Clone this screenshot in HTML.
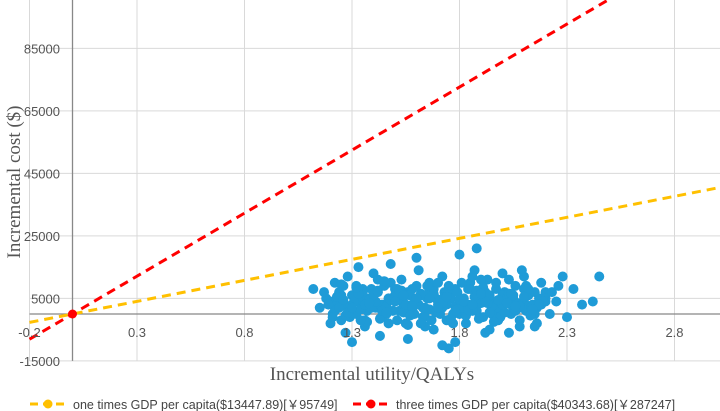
<!DOCTYPE html>
<html><head><meta charset="utf-8"><style>
body{margin:0;background:#fff}
svg{display:block}
text{font-family:"Liberation Sans",sans-serif}
</style></head><body>
<svg id="chart" width="720" height="411" viewBox="0 0 720 411" xmlns="http://www.w3.org/2000/svg">
<g id="grid"></g>
<g id="lines"></g>
<g id="pts"></g>
<g id="labels"></g>
<text x="372" y="380" text-anchor="middle" font-size="19" fill="#555" style="font-family:'Liberation Serif',serif">Incremental utility/QALYs</text>
<text transform="translate(20,182) rotate(-90)" text-anchor="middle" font-size="19" fill="#555" style="font-family:'Liberation Serif',serif">Incremental cost ($)</text>
<g>
<line x1="30" y1="404" x2="64" y2="404" stroke="#FFC000" stroke-width="3" stroke-dasharray="8,5"/>
<circle cx="48" cy="404" r="4.5" fill="#FFC000"/>
<text x="73" y="409" font-size="12.5" fill="#444">one times GDP per capita($13447.89)[￥95749]</text>
</g>
<g>
<line x1="353" y1="404" x2="387" y2="404" stroke="#FF0000" stroke-width="3" stroke-dasharray="8,5"/>
<circle cx="371" cy="404" r="4.5" fill="#FF0000"/>
<text x="396" y="409" font-size="12.5" fill="#444">three times GDP per capita($40343.68)[￥287247]</text>
</g>
</svg>
<script>
const xTicks=[-0.2,0.3,0.8,1.3,1.8,2.3,2.8];
const yTicks=[-15000,5000,25000,45000,65000,85000];
const wtp=[13447.89,40343.68];
const ptX=[1.12,1.15,1.18,1.2,1.22,1.25,1.27,1.28,1.3,1.3,1.32,1.33,1.35,1.36,1.38,1.4,1.41,1.43,1.45,1.46,1.48,1.5,1.51,1.53,1.55,1.56,1.58,1.6,1.61,1.63,1.65,1.66,1.68,1.7,1.72,1.73,1.75,1.77,1.78,1.8,1.82,1.83,1.85,1.87,1.88,1.9,1.92,1.93,1.95,1.97,1.98,2.0,2.02,2.04,2.06,2.08,2.1,2.12,2.14,2.16,2.18,2.2,2.22,2.25,2.28,2.3,2.33,2.37,2.42,2.45,
1.2,1.24,1.28,1.32,1.36,1.4,1.44,1.48,1.52,1.56,1.6,1.64,1.68,1.72,1.76,1.8,1.84,1.88,1.92,1.96,2.0,2.04,2.08,2.12,2.16,2.2,
1.17,1.23,1.29,1.34,1.39,1.45,1.5,1.55,1.6,1.66,1.71,1.76,1.81,1.86,1.91,1.96,2.01,2.06,2.11,2.15,
1.21,1.26,1.31,1.37,1.42,1.47,1.53,1.58,1.63,1.69,1.74,1.79,1.84,1.9,1.95,2.0,2.05,2.1,2.15,2.2,2.26,
1.19,1.25,1.35,1.42,1.5,1.57,1.64,1.7,1.78,1.86,1.94,2.03,2.09,2.17,
1.24,1.33,1.44,1.54,1.62,1.74,1.84,1.93,2.03,2.13,2.23,1.6,1.88,1.72,2.05,1.47,
1.22,1.26,1.3,1.34,1.38,1.42,1.46,1.5,1.54,1.58,1.62,1.66,1.7,1.74,1.78,1.82,1.86,1.9,1.94,1.98,2.02,2.06,2.1,2.14,2.18,
1.23,1.27,1.31,1.35,1.39,1.43,1.47,1.51,1.55,1.59,1.63,1.67,1.71,1.75,1.79,1.83,1.87,1.91,1.95,1.99,2.03,2.07,2.11,2.15,2.19,
1.21,1.25,1.29,1.33,1.37,1.41,1.45,1.49,1.53,1.57,1.61,1.65,1.69,1.73,1.77,1.81,1.85,1.89,1.93,1.97,2.01,2.05,2.09,2.13,
1.24,1.28,1.32,1.36,1.4,1.44,1.48,1.52,1.56,1.6,1.64,1.68,1.72,1.76,1.8,1.84,1.88,1.92,1.96,2.0,2.04,2.08,2.12,2.17,
1.26,1.3,1.34,1.38,1.42,1.46,1.5,1.54,1.58,1.62,1.66,1.7,1.74,1.78,1.82,1.86,1.9,1.94,1.98,2.02,2.06,2.1,2.14];
const ptY=[8000,2000,5000,-3000,10000,6000,-6000,12000,3000,-9000,0,15000,8000,-4000,5000,13000,2000,-7000,9000,0,16000,4000,-2000,11000,6000,-8000,1000,9000,14000,-1000,5000,10000,-5000,3000,12000,7000,-11000,0,8000,19000,4000,-3000,10000,14000,1000,6000,-6000,11000,2000,8000,-2000,13000,5000,0,9000,-4000,12000,6000,3000,-3000,10000,7000,0,4000,12000,-1000,8000,3000,4000,12000,
4000,7000,2000,9000,-2000,6000,3000,10000,1000,7000,4000,-1000,8000,2000,6000,0,9000,4000,7000,1000,5000,3000,-2000,6000,2000,5000,
7000,3000,-1000,5000,8000,1000,6000,-3000,3000,8000,0,5000,10000,2000,-1000,4000,7000,1000,9000,0,
0,9000,5000,1000,7000,-3000,4000,8000,2000,5000,-2000,7000,3000,11000,0,6000,2000,8000,-4000,4000,9000,
3000,-2000,2000,11000,8000,6000,-4000,10000,-9000,12000,-5000,11000,14000,5000,
5000,4000,-1000,2000,6000,3000,8000,5000,-6000,2000,7000,18000,21000,-10000,5000,4500,
1000,3500,6000,1500,4500,7500,2500,5500,500,3000,6500,1500,4000,7000,2500,5000,1000,3500,6000,2000,5000,1500,4000,2500,3000,
5500,-500,4000,7000,2000,-1500,5000,8000,3000,0,6000,-2000,4500,9000,1500,-500,5500,8500,2500,-1000,6500,3500,1000,7000,4000,
-1000,9500,2500,6500,-2500,4000,10500,1000,7500,-500,3000,9000,500,5500,-3000,2000,8000,-1500,3500,10000,500,6000,2000,-500,
2000,500,8500,3000,6000,1000,4500,7500,-3500,5000,2000,6500,3500,-1500,4500,1500,7500,4000,-2500,3000,6500,2500,8000,3000,
4500,2000,-2000,3500,7000,500,4000,6000,2500,-3000,5000,2000,5500,1000,4000,3000,6500,500,4500,3500,2500,5500,1500];
const X=v=>72.5+(v)*215, Y=v=>314-v*0.003125;
const NS='http://www.w3.org/2000/svg';
function mk(t,a,p){const e=document.createElementNS(NS,t);for(const k in a)e.setAttribute(k,a[k]);p.appendChild(e);return e;}
const g=document.getElementById('grid'),L=document.getElementById('labels');
xTicks.forEach(t=>{const l=mk('line',{x1:X(t),x2:X(t),y1:0,y2:Y(-15000),stroke:'#d9d9d9','stroke-width':1},g);


const tx=mk('text',{x:X(t),y:337,'text-anchor':'middle','font-size':13,fill:'#555'},L);tx.textContent=t;

});
yTicks.forEach(t=>{const l=mk('line',{x1:X(-0.2),x2:720,y1:Y(t),y2:Y(t),stroke:'#d9d9d9','stroke-width':1},g);


const tx=mk('text',{x:60,y:Y(t)+5,'text-anchor':'end','font-size':13,fill:'#555'},L);tx.textContent=t;

});
const ax=mk('line',{x1:X(-0.2),x2:720,y1:Y(0),y2:Y(0),stroke:'#888','stroke-width':1.3},g);


const ay=mk('line',{x1:X(0),x2:X(0),y1:0,y2:Y(-15000),stroke:'#888','stroke-width':1.3},g);


const ln=document.getElementById('lines');
const cols=['#FFC000','#FF0000'];
wtp.forEach((w,i)=>{const x0=-0.2,x1=3.02;const l=mk('line',{x1:X(x0),y1:Y(w*x0),x2:X(x1),y2:Y(w*x1),stroke:cols[i],'stroke-width':3,'stroke-dasharray':'9,6'},ln);

});
const p=document.getElementById('pts');
ptX.forEach((x,i)=>{const c=mk('circle',{cx:X(x),cy:Y(ptY[i]),r:5,fill:'#1F9BD7'},p);

});
const o=mk('circle',{cx:X(0),cy:Y(0),r:4.5,fill:'#FF0000'},ln);


</script>
</body></html>
